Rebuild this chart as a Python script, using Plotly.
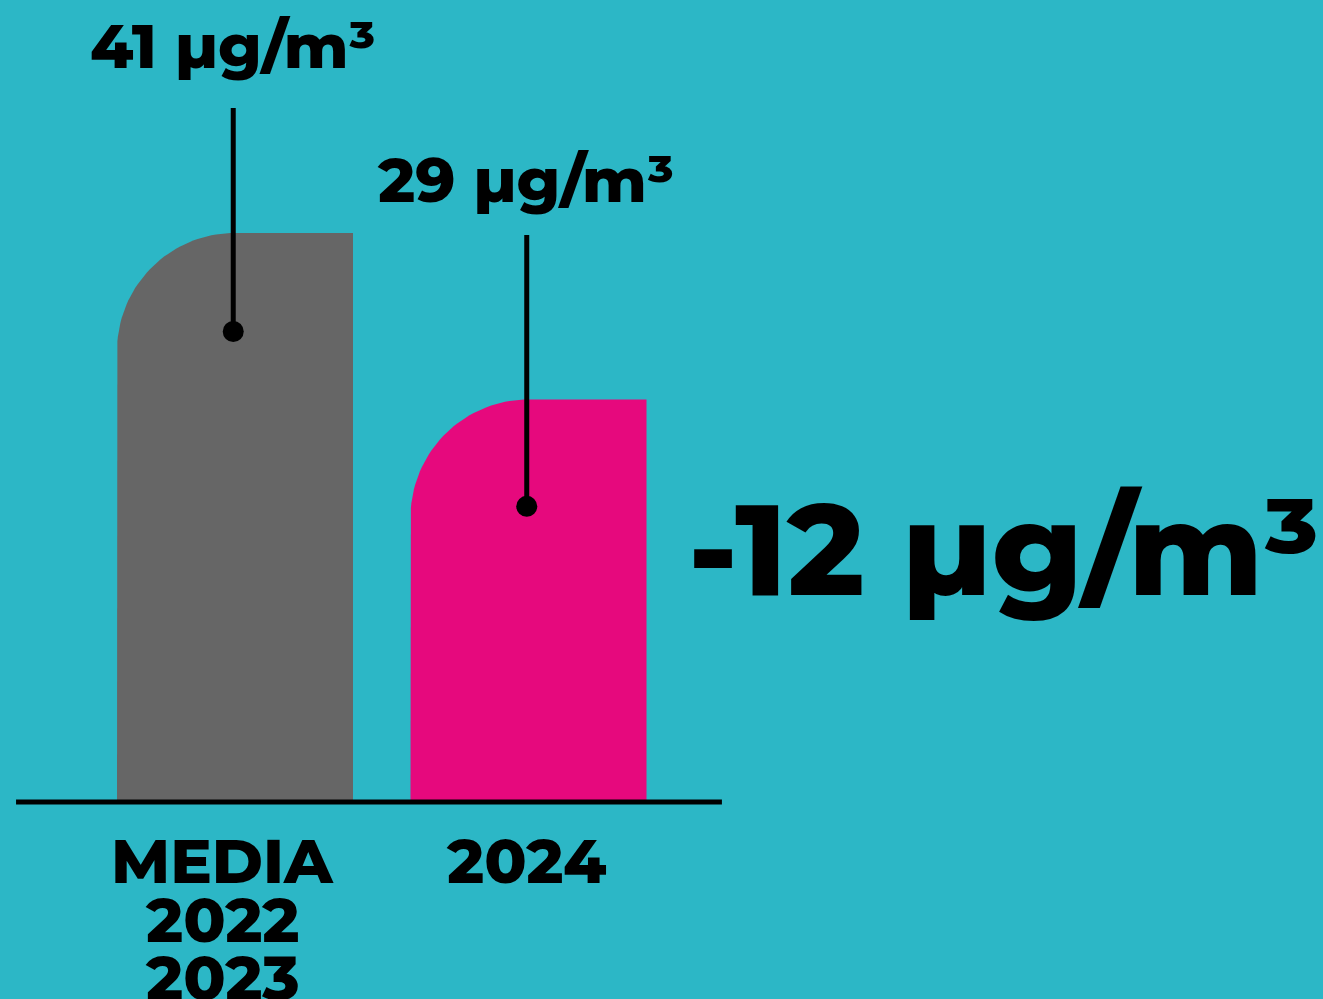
import numpy as np
import plotly.graph_objects as go

# ---- data ----
label_lines = [["MEDIA", "2022", "2023"], ["2024"]]
values = [41, 29]
unit = "µg/m³"
bar_colors = ["#666666", "#E6097D"]

BG = "#2CB7C6"
FONT = "Montserrat, Inter, 'Open Sans', sans-serif"

W, H = 1323, 999
# axis geometry
x0 = -235 / 293.5
x1 = x0 + W / 293.5
px_per_unit_y = 13.88
y0 = -(H - 802) / px_per_unit_y
y1 = 802 / px_per_unit_y

bar_w = 236 / 293.5
r_x = bar_w / 2
r_y = 118 / px_per_unit_y

fig = go.Figure()

for i, (v, c) in enumerate(zip(values, bar_colors)):
    xl = i - bar_w / 2
    xr = i + bar_w / 2
    t = np.linspace(np.pi, np.pi / 2, 40)
    arc_x = xl + r_x + r_x * np.cos(t)
    arc_y = v - r_y + r_y * np.sin(t)
    xs = [xl, xl] + list(arc_x) + [xr, xr, xl]
    ys = [0, v - r_y] + list(arc_y) + [v, 0, 0]
    fig.add_trace(go.Scatter(x=xs, y=ys, mode="lines", fill="toself",
                             fillcolor=c, line=dict(width=0), hoverinfo="skip"))

# baseline
fig.add_trace(go.Scatter(x=[-0.746, 1.659], y=[0, 0], mode="lines",
                         line=dict(color="black", width=5), hoverinfo="skip"))

# leader lines with dots
line_tops = [50.0, 40.85]
dot_offsets = [7.1, 7.7]
for i, v in enumerate(values):
    dot_y = v - dot_offsets[i]
    fig.add_trace(go.Scatter(x=[i - 0.006, i - 0.006], y=[dot_y, line_tops[i]], mode="lines",
                             line=dict(color="black", width=5), hoverinfo="skip"))
    fig.add_trace(go.Scatter(x=[i - 0.006], y=[dot_y], mode="markers",
                             marker=dict(color="black", size=21), hoverinfo="skip"))

annotations = []
label_y_px = [46, 180]
for i, v in enumerate(values):
    annotations.append(dict(
        x=i, y=1 - label_y_px[i] / H, xref="x", yref="paper", xshift=-3,
        text=f"{v} {unit}", showarrow=False, xanchor="center", yanchor="middle",
        font=dict(family=FONT, size=62, color="black", weight=800)))

# category labels
line_px = [861, 920, 978]
for i, lines in enumerate(label_lines):
    for j, ln in enumerate(lines):
        annotations.append(dict(
            x=i, y=1 - line_px[j] / H, xref="x", yref="paper", xshift=-13 if i == 0 else -2,
            text=ln, showarrow=False, xanchor="center", yanchor="middle",
            font=dict(family=FONT, size=62, color="black", weight=800)))

diff = values[1] - values[0]
annotations.append(dict(
    x=1003 / W, y=1 - 548 / H, xref="paper", yref="paper",
    text=f"{diff} {unit}", showarrow=False, xanchor="center", yanchor="middle",
    font=dict(family=FONT, size=129, color="black", weight=800)))

fig.update_layout(
    width=W, height=H, margin=dict(l=0, r=0, t=0, b=0),
    paper_bgcolor=BG, plot_bgcolor=BG, showlegend=False,
    xaxis=dict(range=[x0, x1], visible=False, fixedrange=True),
    yaxis=dict(range=[y0, y1], visible=False, fixedrange=True),
    annotations=annotations,
)

fig.write_html("out.html", config={"displayModeBar": False},
               post_script="document.body.style.margin='0';document.body.style.overflow='hidden';document.body.style.background='" + BG + "';")
